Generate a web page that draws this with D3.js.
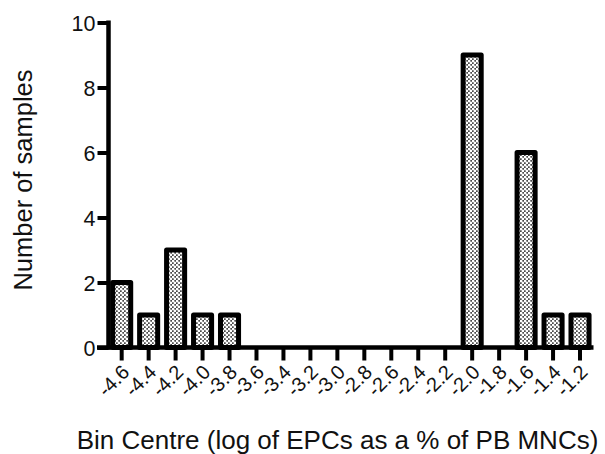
<!DOCTYPE html>
<html>
<head>
<meta charset="utf-8">
<script src="https://cdn.jsdelivr.net/npm/d3@7/dist/d3.min.js"></script>
<style>
  html, body { margin: 0; padding: 0; background: #fff; }
  svg { display: block; }
  text { font-family: "Liberation Sans", Arial, Helvetica, sans-serif; fill: #111; }
</style>
</head>
<body>
<svg id="chart" width="605" height="454"></svg>
<script>
// Histogram bins (log of EPCs as a % of PB MNCs) and sample counts
const binCentres = ["-4.6", "-4.4", "-4.2", "-4.0", "-3.8", "-3.6", "-3.4", "-3.2", "-3.0",
                    "-2.8", "-2.6", "-2.4", "-2.2", "-2.0", "-1.8", "-1.6", "-1.4", "-1.2"];
const sampleCounts = [2, 1, 3, 1, 1, 0, 0, 0, 0, 0, 0, 0, 0, 9, 0, 6, 1, 1];
const yTicks = [0, 2, 4, 6, 8, 10];

const xTitle = "Bin Centre (log of EPCs as a % of PB MNCs)";
const yTitle = "Number of samples";

const svg = d3.select("#chart");

const x = d3.scaleBand()
  .domain(binCentres)
  .range([108.2, 593.5])
  .paddingInner(0.33)
  .paddingOuter(0.165);

const y = d3.scaleLinear()
  .domain([0, 10])
  .range([347.5, 22.5]);

// dotted fill for the bars
const defs = svg.append("defs");
const pat = defs.append("pattern")
  .attr("id", "dots")
  .attr("patternUnits", "userSpaceOnUse")
  .attr("width", 4)
  .attr("height", 4);
pat.append("rect").attr("width", 4).attr("height", 4).attr("fill", "#4a4a4a");
pat.append("circle").attr("cx", 1).attr("cy", 1).attr("r", 1.4).attr("fill", "#fff");
pat.append("circle").attr("cx", 3).attr("cy", 3).attr("r", 1.4).attr("fill", "#fff");

const data = binCentres.map((b, i) => ({ bin: b, n: sampleCounts[i] }));

// bars
svg.append("g")
  .selectAll("rect")
  .data(data.filter(d => d.n > 0))
  .join("rect")
  .attr("x", d => x(d.bin))
  .attr("width", x.bandwidth())
  .attr("y", d => y(d.n))
  .attr("height", d => y(0) - y(d.n))
  .attr("fill", "url(#dots)")
  .attr("stroke", "#000")
  .attr("stroke-width", 5)
  .attr("stroke-linejoin", "round");

// y axis
const yAxis = svg.append("g")
  .attr("transform", "translate(108.5,0)")
  .call(d3.axisLeft(y).tickValues(yTicks).tickSize(11).tickPadding(2).tickFormat(d3.format("d")));
yAxis.select(".domain").attr("stroke", "#000").attr("stroke-width", 4.5)
  .attr("d", `M0,${y(10) - 2}V${y(0) + 2}`);
yAxis.selectAll(".tick line").attr("stroke", "#000").attr("stroke-width", 4);
yAxis.selectAll(".tick text")
  .style("font-size", "21.5px")
  .attr("dy", "0.36em")
  .attr("fill", "#111");

// x axis
const xAxis = svg.append("g")
  .attr("transform", `translate(0,${y(0)})`)
  .call(d3.axisBottom(x).tickSize(13).tickPadding(2));
xAxis.select(".domain").attr("stroke", "#000").attr("stroke-width", 4.5)
  .attr("d", `M97,0H593.5`);
xAxis.selectAll(".tick line").attr("stroke", "#000").attr("stroke-width", 4);
xAxis.selectAll(".tick text")
  .style("font-size", "20px")
  .attr("text-anchor", "end")
  .attr("y", 0)
  .attr("dy", "0.35em")
  .attr("transform", "translate(4,21) rotate(-45)")
  .attr("fill", "#111");

// axis titles
svg.append("text")
  .attr("x", 337.5)
  .attr("y", 449)
  .attr("text-anchor", "middle")
  .style("font-size", "26px")
  .text(xTitle);

svg.append("text")
  .attr("transform", "translate(32,180) rotate(-90)")
  .attr("text-anchor", "middle")
  .style("font-size", "25.5px")
  .text(yTitle);
</script>
</body>
</html>
